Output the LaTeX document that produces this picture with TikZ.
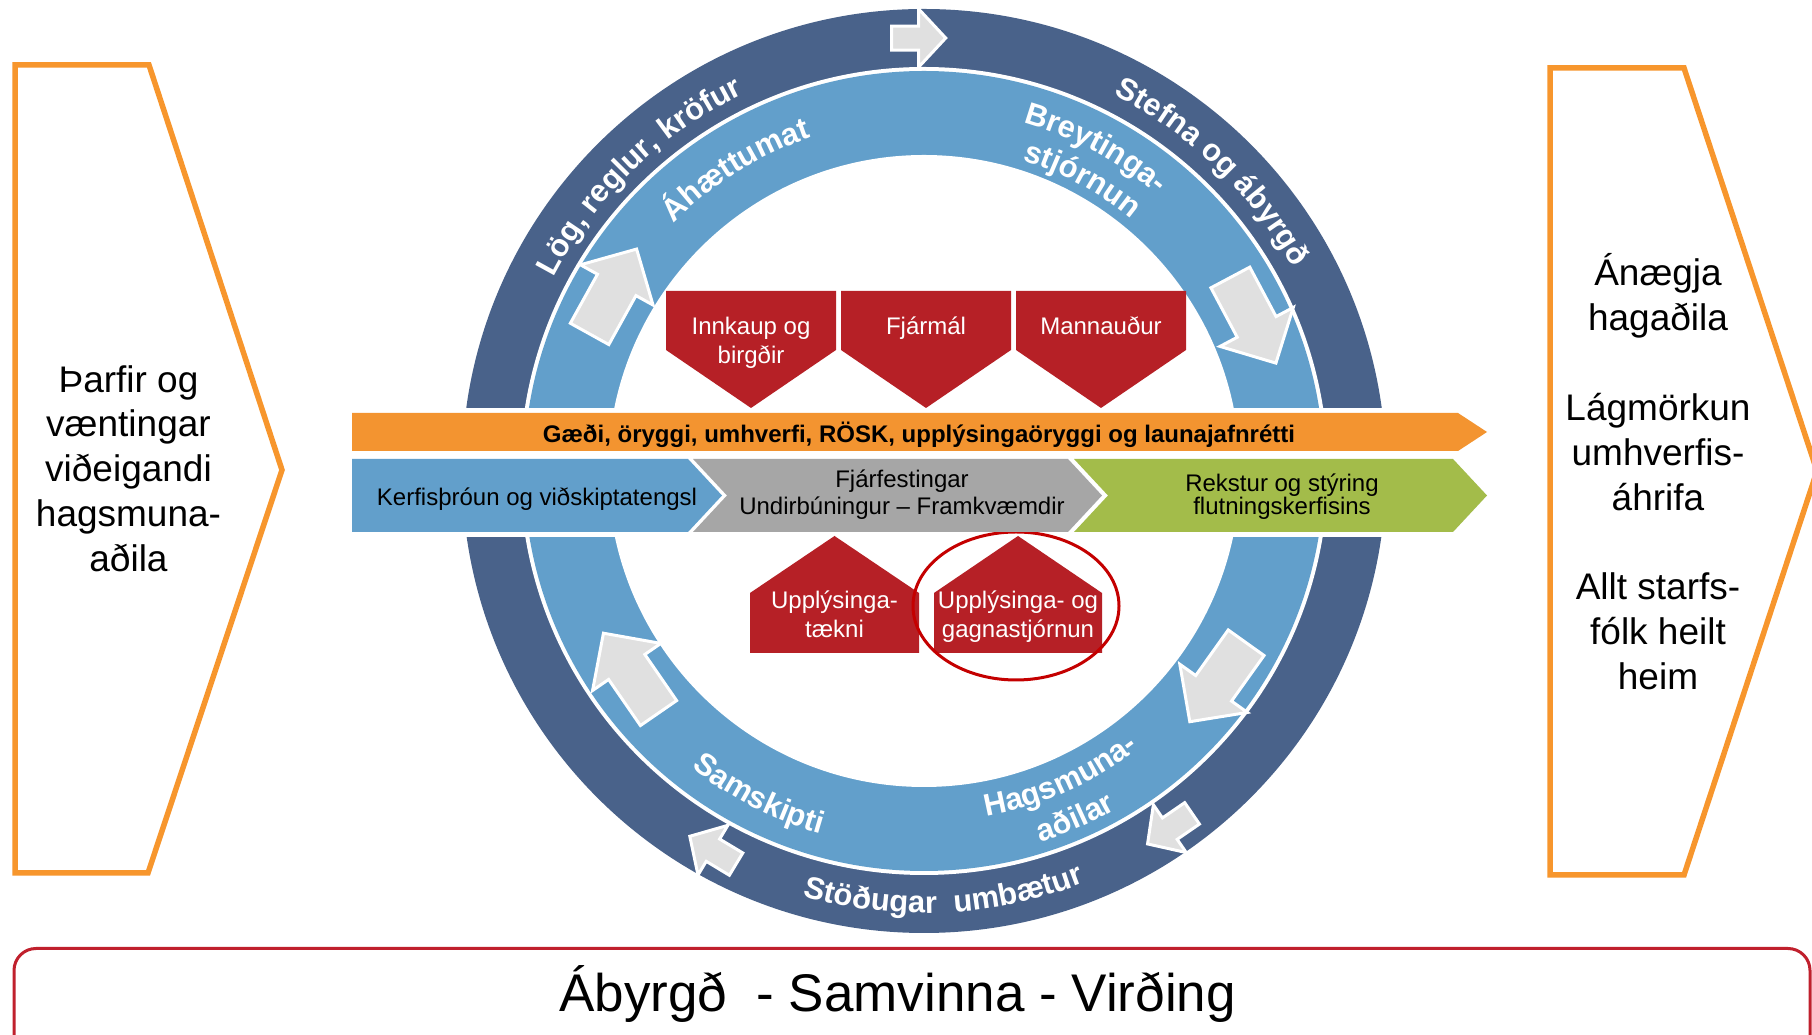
\documentclass[tikz,border=0pt]{standalone}
\usepackage{fontspec}
\setmainfont{Liberation Sans}
\usetikzlibrary{decorations.text}

\definecolor{darkring}{RGB}{73,98,138}
\definecolor{lightring}{RGB}{98,159,203}
\definecolor{bandorange}{RGB}{243,148,48}
\definecolor{chevorange}{RGB}{247,150,45}
\definecolor{boxred}{RGB}{182,32,38}
\definecolor{ellred}{RGB}{196,0,0}
\definecolor{rectred}{RGB}{192,32,45}
\definecolor{bandgrey}{RGB}{166,166,166}
\definecolor{bandgreen}{RGB}{163,188,74}
\definecolor{arrowgrey}{RGB}{224,224,224}

\newcommand\sidefnt{\fontsize{37}{45}\selectfont}
\newcommand\boxfnt{\fontsize{24}{28}\selectfont}
\newcommand\ringfnt{\fontsize{31}{31}\selectfont\bfseries}
\newcommand\bandbfnt{\fontsize{24}{28}\selectfont\bfseries}
\newcommand\mottofnt{\fontsize{53}{60}\selectfont}

% #1 position angle, #2 radius, #3 direction, #4 length, #5 head length, #6 head half width, #7 shaft half width
\newcommand\ringarrow[7]{%
  \begin{scope}[shift={(924,564)}, shift={(#1:#2)}, rotate=#3]
    \filldraw[ringarrowstyle] ({-#4/2},{-#7}) -- ({#4/2-#5},{-#7}) -- ({#4/2-#5},{-#6}) -- ({#4/2},0)
      -- ({#4/2-#5},{#6}) -- ({#4/2-#5},{#7}) -- ({-#4/2},{#7}) -- cycle;
  \end{scope}}

\newcommand\toptext[3]{%
  \path[decorate, decoration={text along path, text align=center, text color=white,
      text={|\ringfnt|#1}}]
    (924,564) ++({#2+70}:#3) arc[start angle={#2+70}, end angle={#2-70}, radius=#3];}
\newcommand\bottext[3]{%
  \path[decorate, decoration={text along path, text align=center, text color=white,
      text={|\ringfnt|#1}}]
    (924,564) ++({#2-70}:#3) arc[start angle={#2-70}, end angle={#2+70}, radius=#3];}

\begin{document}
\begin{tikzpicture}[x=1pt,y=1pt,
  sidetxt/.style={font=\sidefnt, inner sep=0pt, anchor=base, text=black},
  boxtxt/.style={font=\boxfnt, inner sep=0pt, anchor=base, text=white},
  bandtxt/.style={font=\boxfnt, inner sep=0pt, anchor=base, text=black},
  ringarrowstyle/.style={fill=arrowgrey, draw=white, line width=3pt, line join=miter},
  chevron/.style={draw=chevorange, fill=white, line width=5.5pt, line join=miter}]

\useasboundingbox (0,0) rectangle (1812,1035);
\fill[white] (0,0) rectangle (1812,1035);

% ---------- ring ----------
\coordinate (C) at (924,564);
\fill[darkring] (C) circle[radius=462];
\fill[white] (C) circle[radius=404];
\fill[lightring] (C) circle[radius=400];
\fill[white] (C) circle[radius=316];
\fill[white] (400,498) rectangle (1450,627);

% ---------- arrows on ring ----------
\ringarrow{90.7}{433}{0}{54}{27}{29}{12}
\ringarrow{-55.5}{434}{214.5}{54}{27}{29}{13}
\ringarrow{240.9}{434}{149}{54}{27}{29}{13}
\ringarrow{150}{359}{61}{97}{41}{41.5}{22}
\ringarrow{24.6}{362}{-62}{97}{41}{41.5}{22}
\ringarrow{-35.7}{362}{234.5}{97}{41}{41.5}{22}
\ringarrow{214.6}{356}{124.6}{97}{41}{41.5}{22}

% ---------- ring texts ----------
\toptext{Lög, reglur, kröfur}{134}{418}
\toptext{Áhættumat}{122}{352}
\toptext{Stefna og ábyrgð}{46}{421}
\toptext{Breytinga-}{62}{362}
\toptext{stjórnun}{61.5}{326}
\bottext{Samskipti}{243}{377}
\bottext{Hagsmuna-}{294}{351}
\bottext{aðilar}{293.5}{389}
\bottext{Stöðugar {\ }umbætur}{272.7}{442}

% ---------- red boxes ----------
\fill[boxred] (666,744) -- (836,744) -- (836,685) -- (751,627) -- (666,685) -- cycle;
\fill[boxred] (841,744) -- (1011,744) -- (1011,685) -- (926,627) -- (841,685) -- cycle;
\fill[boxred] (1016,744) -- (1186,744) -- (1186,685) -- (1101,627) -- (1016,685) -- cycle;
\node[boxtxt] (b1a) at (751,700) {Innkaup og};
\node[boxtxt] (b1b) at (751,671) {birgðir};
\node[boxtxt] (b2) at (926,700) {Fjármál};
\node[boxtxt] (b3) at (1101,700) {Mannauður};

\fill[boxred] (750,382) -- (919,382) -- (919,442) -- (834.5,499) -- (750,442) -- cycle;
\fill[boxred] (934,382) -- (1102,382) -- (1102,442) -- (1018,499) -- (934,442) -- cycle;
\node[boxtxt] (b4a) at (834.5,426) {Upplýsinga-};
\node[boxtxt] (b4b) at (834.5,397) {tækni};
\node[boxtxt] (b5a) at (1018,426) {Upplýsinga- og};
\node[boxtxt] (b5b) at (1018,397) {gagnastjórnun};
\draw[ellred, line width=3pt] (1016,429) ellipse[x radius=103, y radius=74];

% ---------- bands ----------
\fill[bandorange] (352,622) -- (1458,622) -- (1487,603) -- (1458,584) -- (352,584) -- cycle;
\node[bandtxt, font=\bandbfnt] (orangetxt) at (919,592.5) {Gæði, öryggi, umhverfi, RÖSK, upplýsingaöryggi og launajafnrétti};

\fill[lightring] (352,576) -- (688,576) -- (722,539.5) -- (688,503) -- (352,503) -- cycle;
\fill[bandgrey] (693,576) -- (1068,576) -- (1102,539.5) -- (1068,503) -- (693,503) -- (727,539.5) -- cycle;
\fill[bandgreen] (1074,576) -- (1453,576) -- (1487,539.5) -- (1453,503) -- (1074,503) -- (1108,539.5) -- cycle;
\node[bandtxt] (bluetxt) at (537,529) {Kerfisþróun og viðskiptatengsl};
\node[bandtxt] (greya) at (902,547) {Fjárfestingar};
\node[bandtxt] (greyb) at (902,520) {Undirbúningur – Framkvæmdir};
\node[bandtxt] (greena) at (1282,543) {Rekstur og stýring};
\node[bandtxt] (greenb) at (1282,520) {flutningskerfisins};

% ---------- side chevrons ----------
\draw[chevron] (15,970) -- (149,970) -- (282,565) -- (148,162) -- (15,162) -- cycle;
\node[sidetxt] (l1) at (128.5,642) {Þarfir og};
\node[sidetxt] (l2) at (128.5,598) {væntingar};
\node[sidetxt] (l3) at (128.5,553) {viðeigandi};
\node[sidetxt] (l4) at (128.5,508) {hagsmuna-};
\node[sidetxt] (l5) at (128.5,463) {aðila};

\draw[chevron] (1550,967) -- (1684,967) -- (1817,564) -- (1684,160) -- (1550,160) -- cycle;
\node[sidetxt] (r1) at (1658,749) {Ánægja};
\node[sidetxt] (r2) at (1658,704) {hagaðila};
\node[sidetxt] (r3) at (1658,614) {Lágmörkun};
\node[sidetxt] (r4) at (1658,569) {umhverfis-};
\node[sidetxt] (r5) at (1658,524) {áhrifa};
\node[sidetxt] (r6) at (1658,435) {Allt starfs-};
\node[sidetxt] (r7) at (1658,390) {fólk heilt};
\node[sidetxt] (r8) at (1658,345) {heim};

% ---------- bottom motto ----------
\draw[rectred, line width=3pt, rounded corners=22pt] (14,-40) rectangle (1810,86.5);
\node[font=\mottofnt, inner sep=0pt, anchor=base] (motto) at (897.5,23) {Ábyrgð\hspace{0.556em}- Samvinna - Virðing};

\end{tikzpicture}
\end{document}
